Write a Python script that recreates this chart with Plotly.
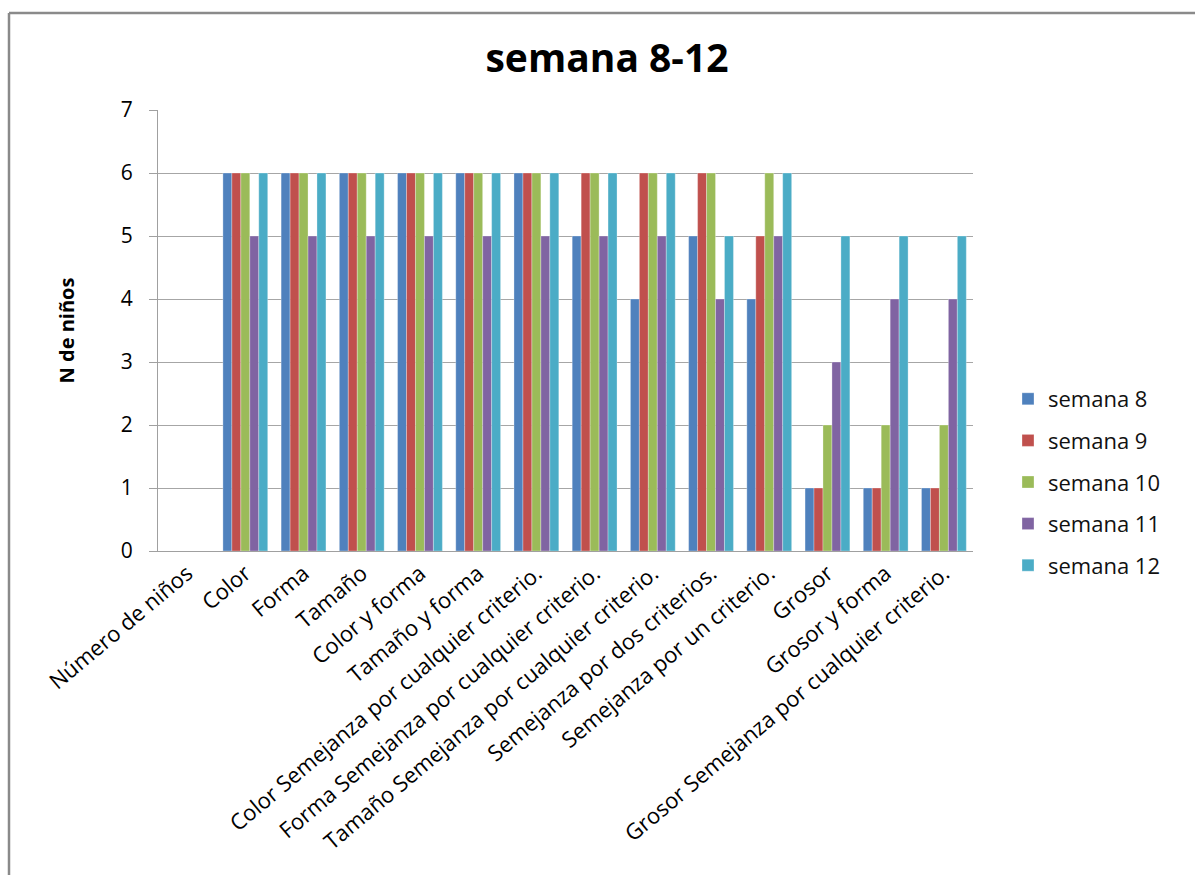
import plotly.graph_objects as go

categories = [
    "Número de niños", "Color", "Forma", "Tamaño", "Color y forma", "Tamaño y forma",
    "Color Semejanza por cualquier criterio.",
    "Forma Semejanza por cualquier criterio.",
    "Tamaño Semejanza por cualquier criterio.",
    "Semejanza por dos criterios.",
    "Semejanza por un criterio.",
    "Grosor", "Grosor y forma",
    "Grosor Semejanza por cualquier criterio.",
]
series_names = ["semana 8", "semana 9", "semana 10", "semana 11", "semana 12"]
semana_8 = [None, 6, 6, 6, 6, 6, 6, 5, 4, 5, 4, 1, 1, 1]
semana_9 = [None, 6, 6, 6, 6, 6, 6, 6, 6, 6, 5, 1, 1, 1]
semana_10 = [None, 6, 6, 6, 6, 6, 6, 6, 6, 6, 6, 2, 2, 2]
semana_11 = [None, 5, 5, 5, 5, 5, 5, 5, 5, 4, 5, 3, 4, 4]
semana_12 = [None, 6, 6, 6, 6, 6, 6, 6, 6, 5, 6, 5, 5, 5]
y_ticks = [0, 1, 2, 3, 4, 5, 6, 7]

colors = ["#4F81BD", "#C0504D", "#9BBB59", "#8064A2", "#4BACC6"]
all_series = [semana_8, semana_9, semana_10, semana_11, semana_12]

fig = go.Figure()
for name, vals, col in zip(series_names, all_series, colors):
    fig.add_trace(go.Bar(
        x=categories, y=vals, name=name, legendgroup=name,
        marker=dict(color=col, line=dict(width=0.6, color="rgba(255,255,255,0.5)")),
    ))

FONT = "Open Sans"
L, R, T, B = 158, 222, 110, 324
W, H = 1195, 875
pw, ph = W - L - R, H - T - B

def px2x(px):
    return (px - L) / pw

def py2y(py):
    return (H - B - py) / ph

fig.update_layout(
    width=W, height=H,
    margin=dict(l=L, r=R, t=T, b=B, autoexpand=False),
    paper_bgcolor="white", plot_bgcolor="white",
    barmode="group", bargap=0.23, bargroupgap=0,
    title=dict(text="<b>semana 8-12</b>", x=px2x(607), xref="paper", xanchor="center",
               y=1 - 58 / H, yanchor="middle",
               font=dict(family=FONT, size=39, color="black")),
    font=dict(family=FONT, color="black"),
    showlegend=True,
    legend=dict(x=px2x(1008), y=py2y(482), xanchor="left", yanchor="middle",
                font=dict(family=FONT, size=22, color="#111"),
                tracegroupgap=10, itemwidth=30, bgcolor="rgba(0,0,0,0)"),
    xaxis=dict(type="category", tickangle=-40, tickfont=dict(family=FONT, size=22, color="black"),
               showline=True, linecolor="#A0A0A0", linewidth=1, showgrid=False,
               ticks="", ticklen=0),
    yaxis=dict(range=[0, 7], tickvals=y_ticks, tickfont=dict(family=FONT, size=21, color="black"),
               ticklabelstandoff=12,
               showgrid=True, gridcolor="#A6A6A6", gridwidth=1,
               showline=True, linecolor="#A0A0A0", linewidth=1,
               ticks="outside", ticklen=8, tickcolor="#A0A0A0",
               zeroline=False,
               title=dict(text="<b>N de niños</b>", standoff=40,
                          font=dict(family=FONT, size=20, color="black"))),
    shapes=[
        dict(type="line", xref="paper", yref="paper",
             x0=px2x(9), x1=px2x(1200), y0=py2y(13), y1=py2y(13),
             line=dict(color="#8A8A8A", width=2.5)),
        dict(type="line", xref="paper", yref="paper",
             x0=px2x(9), x1=px2x(9), y0=py2y(13), y1=py2y(880),
             line=dict(color="#8A8A8A", width=2.5)),
    ],
)

fig.write_html("out.html")
